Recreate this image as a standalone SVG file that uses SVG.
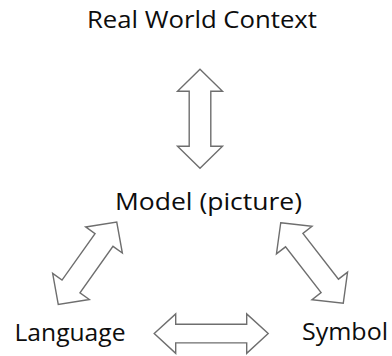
<svg xmlns="http://www.w3.org/2000/svg" width="392" height="356" viewBox="0 0 392 356">
<style>
.lbl{font-family:"Open Sans","Noto Sans","Liberation Sans",sans-serif;font-size:23px;fill:#0d0d0d}
.arr{fill:#ffffff;stroke:#6e6e6e;stroke-width:1.4;stroke-linejoin:miter}
</style>
<rect width="392" height="356" fill="#ffffff"/>
<g id="connectors">
<path class="arr" transform="translate(200,118.7) rotate(90)" d="M-49.5 0L-27.5 -22.5L-27.5 -10.8L27.5 -10.8L27.5 -22.5L49.5 0L27.5 22.5L27.5 10.8L-27.5 10.8L-27.5 22.5Z"/>
<path class="arr" transform="translate(87.5,263.2) rotate(-54.6)" d="M-50.5 0L-28.5 -22.5L-28.5 -11L28.5 -11L28.5 -22.5L50.5 0L28.5 22.5L28.5 11L-28.5 11L-28.5 22.5Z"/>
<path class="arr" transform="translate(312,263) rotate(52.2)" d="M-51 0L-29 -22.5L-29 -11L29 -11L29 -22.5L51 0L29 22.5L29 11L-29 11L-29 22.5Z"/>
<path class="arr" transform="translate(211.2,333.6)" d="M-57 0L-35.5 -19.7L-35.5 -9.3L35.5 -9.3L35.5 -19.7L57 0L35.5 19.7L35.5 9.3L-35.5 9.3L-35.5 19.7Z"/>
</g>
<g id="real-world-context"><text class="lbl" x="87" y="27.5" textLength="230" lengthAdjust="spacingAndGlyphs">Real World Context</text></g>
<g id="model"><text class="lbl" x="115" y="209.5" textLength="187" lengthAdjust="spacingAndGlyphs">Model (picture)</text></g>
<g id="language"><text class="lbl" x="14.5" y="340.5" textLength="111" lengthAdjust="spacingAndGlyphs">Language</text></g>
<g id="symbol"><text class="lbl" x="302" y="339.5" textLength="86" lengthAdjust="spacingAndGlyphs">Symbol</text></g>
</svg>
